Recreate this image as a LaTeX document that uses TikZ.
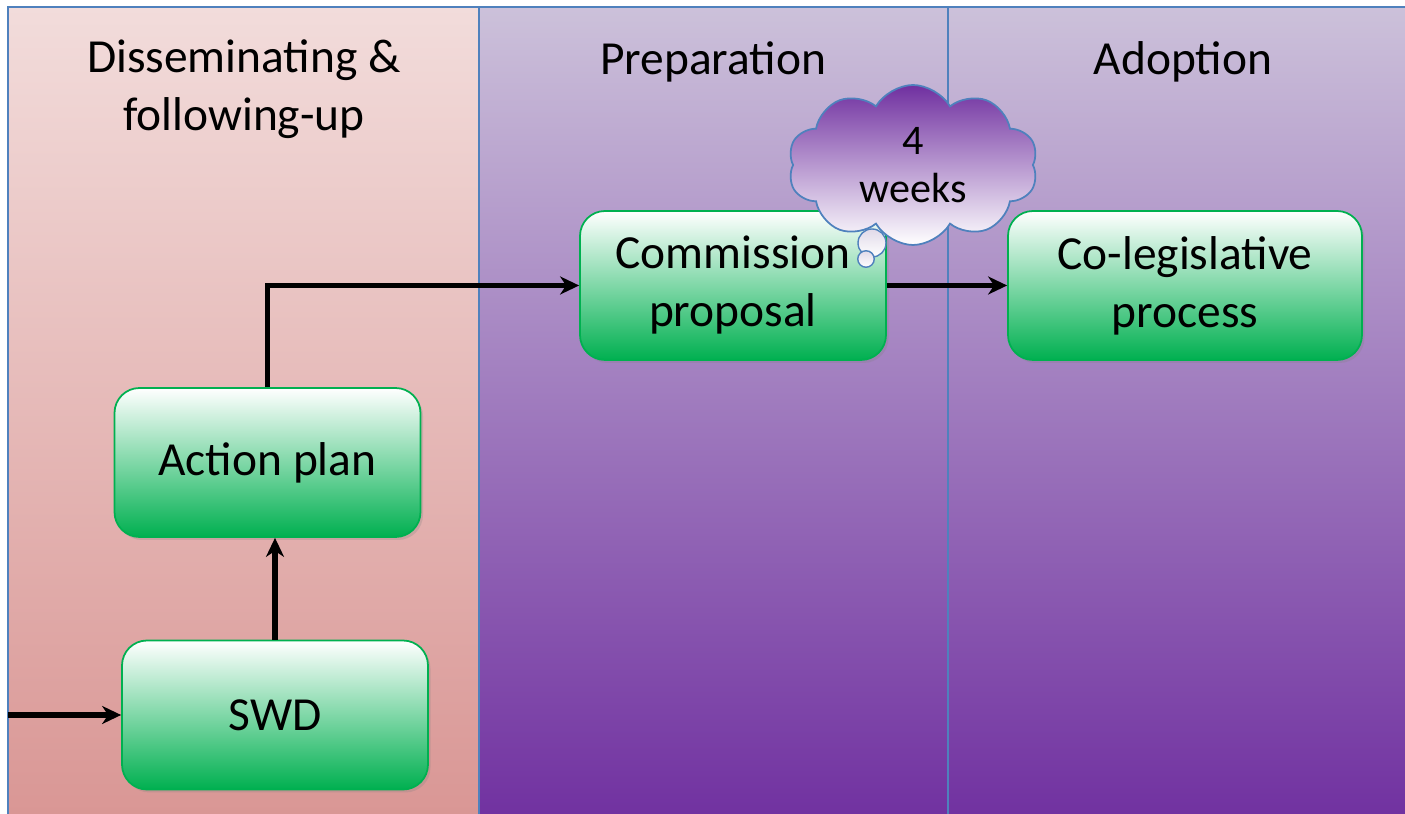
\documentclass[tikz,border=0pt]{standalone}
\usepackage{fontspec}
\setmainfont{Carlito}
\usetikzlibrary{arrows.meta,shapes.symbols,shadows}
\definecolor{lanepinktop}{HTML}{F2DCDB}
\definecolor{lanepinkbot}{HTML}{D99694}
\definecolor{lanepurptop}{HTML}{CCC1DA}
\definecolor{lanepurpbot}{HTML}{7030A0}
\definecolor{boxgreen}{HTML}{00B050}
\definecolor{laneblue}{HTML}{4F81BD}

\begin{document}
\begin{tikzpicture} [scale = 1,
  stepbox/.style = {draw=boxgreen, line width=1pt, rounded corners=0.5cm, top color=white, bottom color=boxgreen,
    minimum width=6.12cm, minimum height=2.98cm, align=center, font=\fontsize{27}{33}\selectfont,
    drop shadow={opacity=0.25, shadow xshift=0.05cm, shadow yshift=-0.06cm}},
  flow/.style = {line width=3.2pt, -{Stealth[length=0.38cm, width=0.36cm, inset=0.12cm]}},
  lanetitle/.style = {align=center, font=\fontsize{27}{33}\selectfont},
  lanerule/.style = {draw=laneblue, line width=1.2pt},
  bubble/.style = {circle, draw=laneblue, line width=0.8pt, top color=lanepurptop!60, bottom color=white, inner sep=0pt}]
\useasboundingbox (0, 0) rectangle (28.1, 16.28);
\fill[white] (0, 0) rectangle (28.1, 16.28);
\shade[top color=lanepinktop, bottom color=lanepinkbot] (0.16, -0.2) rectangle (9.58, 16.14);
\shade[top color=lanepurptop, bottom color=lanepurpbot] (9.58, -0.2) rectangle (28.3, 16.14);
\draw[lanerule] (0.16, -0.2) |- (28.3, 16.14);
\draw[lanerule] (9.58, -0.2) -- (9.58, 16.14);
\draw[lanerule] (18.96, -0.2) -- (18.96, 16.14);
\node[lanetitle] (disstitle) at (4.88, 14.5){Disseminating \&\\following-up};
\node[lanetitle] (preptitle) at (14.26, 15.04){Preparation};
\node[lanetitle] (adopttitle) at (23.66, 15.04){Adoption};
\node[stepbox] (swd) at (5.5, 1.98){SWD};
\node[stepbox] (plan) at (5.35, 7.03){Action plan};
\node[stepbox] (proposal) at (14.66, 10.57){Commission\\proposal};
\node[stepbox, minimum width=7.08cm] (colegis) at (23.7, 10.57){Co-legislative\\process};
\coordinate (entry) at (0.16, 1.98);
\draw[flow] (entry) -- (swd.west);
\draw[flow] (swd.north) -- (swd.north |- plan.south);
\draw[flow] (plan.north) |- (proposal.west);
\draw[flow] (proposal.east) -- (colegis.west);
\node[cloud, cloud puffs=10, cloud puff arc=120, aspect=1.6, minimum width=5cm, minimum height=3.2cm,
  draw=laneblue, line width=1pt, top color=lanepurpbot, bottom color=white, align=center,
  font=\fontsize{24}{27}\selectfont] (weeks) at (18.26, 12.98){4\\weeks};
\node[bubble, minimum size=0.56cm] (bubblebig) at (17.44, 11.42){};
\node[bubble, minimum size=0.33cm] (bubblesmall) at (17.32, 11.1){};
\end{tikzpicture}
\end{document}
